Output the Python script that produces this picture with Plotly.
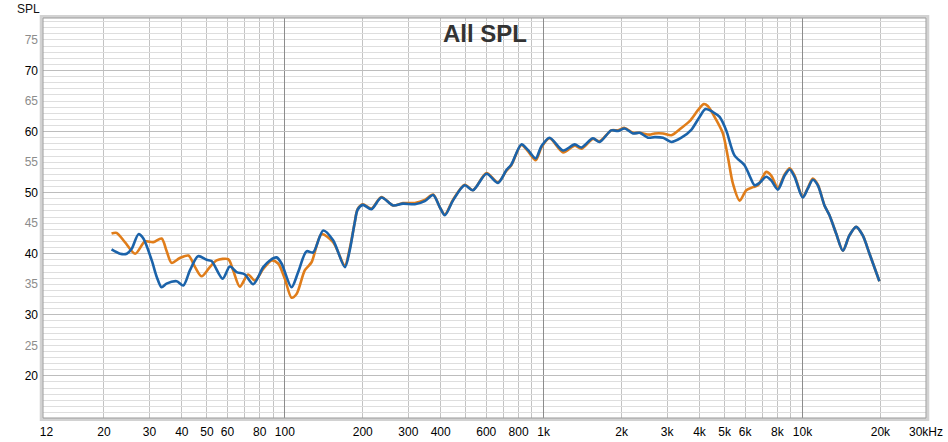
import numpy as np
import plotly.graph_objects as go

# ---- data ----
blue_freq = [21.4, 23.1, 24.5, 25.6, 27.2, 28.4, 30.6, 32.0, 33.4, 34.9, 38.2, 40.5, 43.0, 46.2,
             49.9, 52.1, 57.5, 61.3, 65.1, 70.1, 75.5, 82.5, 87.5, 92.9, 97.1, 106.1, 112.6, 121.3,
             128.6, 140.6, 153.6, 170.5, 178, 186, 191, 200, 216, 236, 262, 286, 318, 347, 374,
             397, 415, 446, 495, 533, 601, 666, 718, 750, 820, 869, 931, 980, 1054, 1188, 1318,
             1399, 1550, 1644, 1825, 1936, 2055, 2213, 2349, 2529, 2685, 2891, 3113, 3404, 3718,
             4002, 4221, 4506, 4784, 5074, 5460, 5970, 6240, 6530, 6820, 7240, 7570, 8030, 8530,
             8920, 9320, 10020, 10490, 10960, 11460, 12160, 12710, 13490, 14320, 15180, 16110,
             17090, 18150, 19820]
blue_spl = [40.7, 40.0, 40.0, 40.8, 43.2, 42.5, 38.9, 36.2, 34.5, 35.1, 35.5, 34.8, 37.3, 39.6,
            39.0, 38.8, 35.9, 37.9, 37.0, 36.6, 35.0, 37.8, 38.9, 39.4, 38.4, 34.5, 37.0, 40.4,
            40.2, 43.8, 42.2, 37.8, 40.5, 45.0, 47.2, 48.0, 47.3, 49.2, 47.9, 48.2, 48.1, 48.6, 49.6,
            47.6, 46.3, 48.7, 51.2, 50.4, 53.1, 51.6, 53.7, 54.6, 57.9, 57.0, 55.6, 57.6, 59.0, 56.9, 57.9,
            57.4, 58.9, 58.3, 60.2, 60.1, 60.5, 59.7, 59.8, 59.0, 59.1, 59.0, 58.3, 59.0, 60.3,
            62.4, 63.7, 63.2, 62.4, 60.2, 56.1, 54.5, 52.8, 51.2, 51.6, 52.6, 52.0, 50.5, 52.8,
            53.8, 52.6, 49.2, 50.7, 52.1, 51.2, 47.9, 46.3, 43.3, 40.5, 43.0, 44.4,
            43.0, 40.0, 35.5]

orange_freq = [21.4, 22.4, 24.1, 26.4, 28.8, 31.0, 33.4, 34.9, 36.5, 39.3, 42.4, 45.0, 47.7, 51.3,
               54.5, 60.4, 63.1, 67.0, 72.1, 76.6, 82.5, 88.9, 94.2, 100, 106.1, 111, 119.5, 126.8,
               138.6, 153.6, 170.5, 178, 186, 191, 200, 216, 236, 262, 286, 318, 347, 374, 397, 415,
               446, 495, 533, 601, 666, 718, 750, 820, 869, 931, 980, 1054, 1188, 1318, 1399, 1550,
               1644, 1825, 1936, 2055, 2213, 2349, 2566, 2685, 2891, 3113, 3404, 3664, 3944, 4150,
               4306, 4642, 4923, 5150, 5383, 5716, 6063, 6436, 6730, 7240, 7570, 8030, 8530, 8920,
               9320, 10020, 10490, 10960, 11460, 12160, 12710, 13490, 14320, 15180, 16110, 17090,
               18150, 19820]
orange_spl = [43.3, 43.4, 41.9, 40.0, 42.0, 41.9, 42.5, 40.5, 38.5, 39.3, 39.7, 37.8, 36.3, 37.8,
              38.9, 39.1, 37.3, 34.6, 36.6, 35.6, 37.5, 38.9, 38.4, 35.9, 32.8, 33.4, 37.3, 38.6,
              43.2, 41.9, 38.1, 40.8, 45.0, 47.3, 48.1, 47.4, 49.3, 47.9, 48.3, 48.3, 48.8, 49.7, 47.6, 46.4,
              48.8, 51.3, 50.4, 53.2, 51.7, 53.6, 54.5, 57.8, 56.8, 55.3, 57.4, 58.9, 56.6, 57.7, 57.2, 58.8,
              58.4, 60.2, 60.2, 60.6, 59.8, 59.8, 59.5, 59.7, 59.7, 59.4, 60.6, 61.7, 63.5, 64.5,
              64.2, 61.9, 59.7, 55.8, 51.5, 48.7, 50.4, 50.9, 51.2, 53.4, 52.8, 50.8, 53.0, 54.0,
              52.8, 49.3, 50.8, 52.3, 51.3, 47.9, 46.3, 43.3, 40.5, 43.0, 44.4, 43.0,
              40.0, 35.5]

x_label_vals = [12, 20, 30, 40, 50, 60, 80, 100, 200, 300, 400, 600, 800, 1000, 2000, 3000,
                4000, 5000, 6000, 8000, 10000, 20000, 30000]
x_label_text = ['12', '20', '30', '40', '50', '60', '80', '100', '200', '300', '400', '600',
                '800', '1k', '2k', '3k', '4k', '5k', '6k', '8k', '10k', '20k', '30kHz']
x_grid_minor = [20, 30, 40, 50, 60, 70, 80, 90, 200, 300, 400, 500, 600, 700, 800, 900,
                2000, 3000, 4000, 5000, 6000, 7000, 8000, 9000, 20000]
x_grid_decade = [100, 1000, 10000]
y_tick_vals = [20, 25, 30, 35, 40, 45, 50, 55, 60, 65, 70, 75]
y_grid_major = [20, 30, 40, 50, 60, 70]

X_RANGE = [np.log10(11.63), np.log10(30000)]
Y_RANGE = [13.1, 78.6]

FONT = "Liberation Sans, Arial, sans-serif"

y_tick_text = [(str(v) if v % 10 == 0 else '<span style="color:#8c8c8c">%d</span>' % v)
               for v in y_tick_vals]

fig = go.Figure()
fig.add_trace(go.Scatter(x=orange_freq, y=orange_spl, mode='lines',
                         line=dict(color='rgb(224,125,26)', width=2.6, shape='spline', smoothing=0.8),
                         showlegend=False, hoverinfo='skip'))
fig.add_trace(go.Scatter(x=blue_freq, y=blue_spl, mode='lines',
                         line=dict(color='rgb(27,99,170)', width=2.6, shape='spline', smoothing=0.8),
                         showlegend=False, hoverinfo='skip'))
# empty trace to activate the overlay grid axes
fig.add_trace(go.Scatter(x=[x_label_vals[0]], y=[None], xaxis='x2', yaxis='y2',
                         showlegend=False, hoverinfo='skip'))

fig.update_layout(
    template='none',
    width=948, height=442,
    margin=dict(l=43, r=22, t=18, b=24, autoexpand=False),
    paper_bgcolor='white', plot_bgcolor='white',
    font=dict(family=FONT, size=12, color='black'),
    xaxis=dict(type='log', range=X_RANGE, tickmode='array', tickvals=x_label_vals,
               ticktext=x_label_text, showgrid=False, zeroline=False, showline=False,
               ticks='', ticklabelstandoff=5, automargin=False,
               minor=dict(tickmode='array', tickvals=x_grid_minor, showgrid=True,
                          gridcolor='#c3c3c3', gridwidth=1, ticks='')),
    xaxis2=dict(type='log', range=X_RANGE, overlaying='x', anchor='y', tickmode='array',
                tickvals=x_grid_decade, showticklabels=False, showgrid=True, automargin=False,
                gridcolor='#8c8c8c', gridwidth=1, zeroline=False, ticks=''),
    yaxis=dict(range=Y_RANGE, tickmode='array', tickvals=y_tick_vals, ticktext=y_tick_text,
               showgrid=True, gridcolor='#dedede', gridwidth=1, zeroline=False, ticks='',
               ticklabelstandoff=4, automargin=False,
               minor=dict(tickmode='linear', tick0=0, dtick=1, showgrid=True,
                          gridcolor='#dedede', gridwidth=1, ticks='')),
    yaxis2=dict(range=Y_RANGE, overlaying='y', anchor='x', tickmode='array',
                tickvals=y_grid_major, showticklabels=False, showgrid=True, automargin=False,
                gridcolor='#bdbdbd', gridwidth=1, zeroline=False, ticks=''),
    shapes=[
        dict(type='rect', xref='paper', yref='paper', x0=-0.002, x1=1.002, y0=-0.004, y1=1.004,
             line=dict(color='#d2d2d2', width=3), layer='above'),
        dict(type='rect', xref='paper', yref='paper', x0=0, x1=1, y0=0, y1=1,
             line=dict(color='#9a9a9a', width=1), layer='above'),
    ],
    annotations=[
        dict(text='<b>All SPL</b>', xref='paper', yref='paper', x=0.5, y=(418 - 33.5) / 400,
             xanchor='center', yanchor='middle', showarrow=False,
             font=dict(family=FONT, size=24, color='#333333')),
        dict(text='SPL', xref='paper', yref='paper', x=(28 - 43) / 883, y=(418 - 9) / 400,
             xanchor='center', yanchor='middle', showarrow=False,
             font=dict(family=FONT, size=12, color='#111111')),
    ],
)

fig.write_html("out.html")
